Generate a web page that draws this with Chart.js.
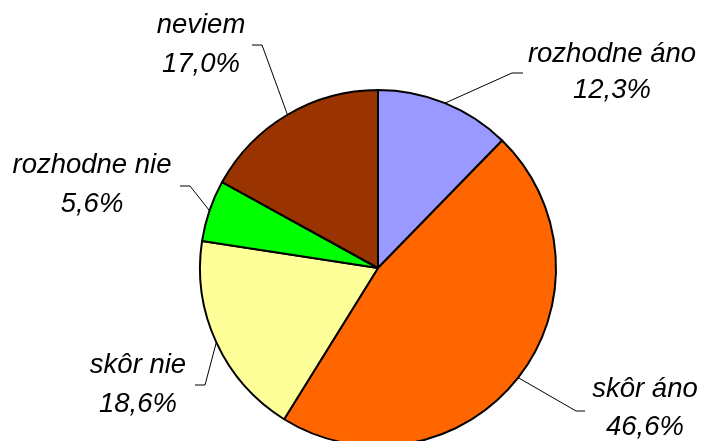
<!DOCTYPE html>
<html>
<head>
<meta charset="utf-8">
<script src="https://cdn.jsdelivr.net/npm/chart.js@4"></script>
<style>
html,body{margin:0;padding:0;background:#fff;overflow:hidden;width:703px;height:441px;}
#wrap{position:absolute;left:0;top:0;width:703px;height:460px;}
</style>
</head>
<body>
<div id="wrap"><canvas id="c" width="703" height="460"></canvas></div>
<script>
const categories = ["rozhodne áno", "skôr áno", "skôr nie", "rozhodne nie", "neviem"];
const values = [12.3, 46.6, 18.6, 5.6, 17.0];
const valueLabels = ["12,3%", "46,6%", "18,6%", "5,6%", "17,0%"];
const colors = ["#9999FF", "#FF6600", "#FFFF99", "#00FF00", "#993300"];

// label layout: elbow point, horizontal end, text center x, baselines
const labelLayout = [
  {elbow:[512,73], end:[523,73], tx:612, b1:62, b2:98},
  {elbow:[576,411], end:[585,411], tx:645, b1:397, b2:435},
  {elbow:[205,385], end:[195,385], tx:138, b1:373, b2:412},
  {elbow:[190,186], end:[180,186], tx:92, b1:173, b2:212},
  {elbow:[262,45], end:[252,45], tx:201, b1:33, b2:72}
];

const labelPlugin = {
  id: 'pieLabels',
  afterDatasetsDraw(chart) {
    const ctx = chart.ctx;
    const meta = chart.getDatasetMeta(0);
    ctx.save();
    meta.data.forEach((arc, i) => {
      const p = arc.getProps(['x','y','startAngle','endAngle','outerRadius'], true);
      const mid = (p.startAngle + p.endAngle) / 2;
      const sx = p.x + Math.cos(mid) * p.outerRadius;
      const sy = p.y + Math.sin(mid) * p.outerRadius;
      const L = labelLayout[i];
      ctx.strokeStyle = '#000';
      ctx.lineWidth = 1;
      ctx.beginPath();
      ctx.moveTo(sx, sy);
      ctx.lineTo(L.elbow[0], L.elbow[1]);
      ctx.lineTo(L.end[0], L.end[1]);
      ctx.stroke();
      ctx.fillStyle = '#000';
      ctx.font = 'italic 27.5px "Liberation Sans", Arial, sans-serif';
      ctx.textAlign = 'center';
      ctx.textBaseline = 'alphabetic';
      ctx.fillText(chart.data.labels[i], L.tx, L.b1);
      ctx.fillText(valueLabels[i], L.tx, L.b2);
    });
    ctx.restore();
  }
};

new Chart(document.getElementById('c'), {
  type: 'pie',
  data: {
    labels: categories,
    datasets: [{
      data: values,
      backgroundColor: colors,
      borderColor: '#000',
      borderWidth: 2
    }]
  },
  options: {
    responsive: false,
    animation: false,
    layout: {padding: {left: 199, right: 146, top: 89, bottom: 13}},
    plugins: {legend: {display: false}, tooltip: {enabled: false}}
  },
  plugins: [labelPlugin]
});
</script>
</body>
</html>
